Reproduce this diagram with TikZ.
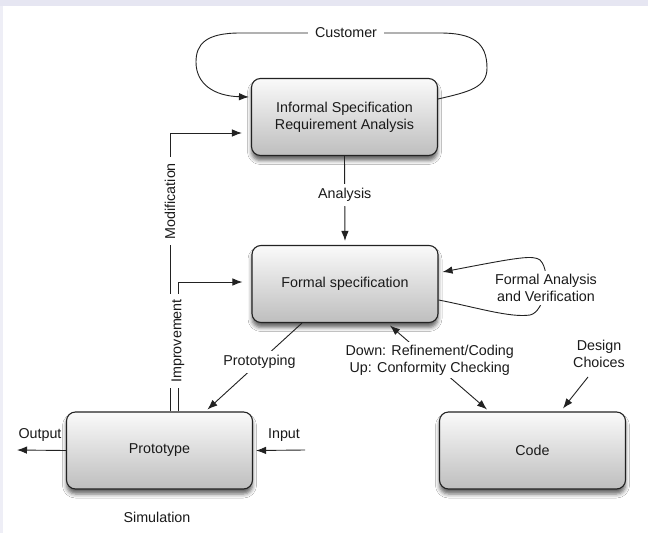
\documentclass[tikz,border=0pt]{standalone}
\usepackage{fontspec}
\setmainfont{Liberation Sans}
\usetikzlibrary{arrows.meta,calc,shadows.blur}
\definecolor{ln}{HTML}{222222}
\definecolor{txt}{HTML}{1A1A1A}
\definecolor{strip}{HTML}{E6E6F2}
\definecolor{lstrip}{HTML}{EEEEF6}
\definecolor{boxtop}{HTML}{FAFAFA}
\definecolor{boxbot}{HTML}{BEBEBE}
\tikzset{
  box/.style={draw=ln, line width=1.1pt, rounded corners=9pt, minimum width=186pt, minimum height=77pt,
    inner sep=0pt, align=center, top color=boxtop, bottom color=boxbot, text=txt,
    blur shadow={shadow xshift=0pt, shadow yshift=-5pt, shadow blur radius=4pt, shadow opacity=60}},
  lbl/.style={fill=white, inner sep=4pt, text=txt, align=center},
  plain/.style={inner sep=2pt, text=txt, align=center},
  arr/.style={draw=ln, line width=0.9pt, -{Latex[length=10pt,width=7.5pt]}},
  arrb/.style={draw=ln, line width=0.9pt, {Latex[length=10pt,width=7.5pt]}-{Latex[length=10pt,width=7.5pt]}},
  ln/.style={draw=ln, line width=0.9pt}
}
\begin{document}
\begin{tikzpicture}[x=1pt,y=-1pt,font=\fontsize{14.3}{17}\selectfont]
\useasboundingbox (0,0) rectangle (648,533);
\fill[white] (0,0) rectangle (648,533);
\fill[strip] (0,0) rectangle (648,6);
\fill[lstrip] (0,6) rectangle (3,533);

% boxes
\node[box] (inf) at (344.5,117) {Informal Specification\\Requirement Analysis};
\node[box] (fs) at (345,284) {Formal specification};
\node[box] (proto) at (159.5,450.5) {Prototype};
\node[box] (code) at (532.5,450.5) {Code};

% customer loop
\coordinate (c0) at ($(inf.east)+(0,-18)$);
\coordinate (c1) at ($(inf.west)+(-2,-20)$);
\draw[arr] (c0) .. controls (468,92) and (487,88) .. (487,68)
  .. controls (487,42) and (472,33) .. (440,33)
  -- node[lbl,pos=0.47,inner xsep=7pt]{Customer} (240,33)
  .. controls (206,33) and (196,44) .. (196,62)
  .. controls (196,84) and (214,96) .. (c1);

% analysis
\draw[arr] (inf.south) -- node[lbl,pos=0.46]{Analysis} ($(fs.north)+(0,-4)$);

% modification
\coordinate (m0) at ($(proto.north)+(10.5,0)$);
\coordinate (m1) at (170,133);
\draw[arr] (m0) -- node[lbl,pos=0.755,rotate=90,inner xsep=6pt]{Modification} (m1) -- ($(inf.west)+(-9,16)$);

% improvement
\coordinate (i0) at ($(proto.north)+(18.5,0)$);
\coordinate (i1) at (178,282);
\draw[arr] (i0) -- node[lbl,pos=0.545,rotate=90,inner xsep=5pt,inner ysep=5pt]{Improvement} (i1) -- ($(fs.west)+(-9,-2)$);

% prototyping
\draw[arr] ($(fs.south)+(-43,0)$) -- node[lbl,pos=0.45]{Prototyping} ($(proto.north)+(48,-2)$);

% refinement / conformity
\draw[arrb] ($(fs.south)+(45,2.5)$) -- node[lbl,pos=0.41,inner sep=3pt]{Down: Refinement/Coding\\Up: Conformity Checking} ($(code.north)+(-45.5,-2)$);

% design choices
\node[plain] (dc) at (599,354) {Design\\Choices};
\coordinate (dc0) at (588,377);
\draw[arr] (dc0) -- ($(code.north)+(30.5,-3)$);

% formal analysis loop
\coordinate (f0) at ($(fs.east)+(0,16)$);
\coordinate (f1) at ($(fs.east)+(4,-12)$);
\draw[arr] (f0) .. controls (475,307) and (510,318) .. (530,315)
  .. controls (545,312) and (552,272) .. (540,260)
  .. controls (533,255) and (520,257) .. (f1);
\node[lbl,inner sep=3pt] (fa) at (546,288) {Formal Analysis\\and Verification};

% output / input
\coordinate (o0) at (17,450);
\draw[arr] (proto.west) -- (o0);
\node[plain] (olbl) at (40,435) {Output};
\coordinate (in0) at (305,450);
\draw[arr] (in0) -- ($(proto.east)+(3,0)$);
\node[plain] (ilbl) at (284,435) {Input};

\node[plain] (sim) at (157,517) {Simulation};
\end{tikzpicture}
\end{document}
